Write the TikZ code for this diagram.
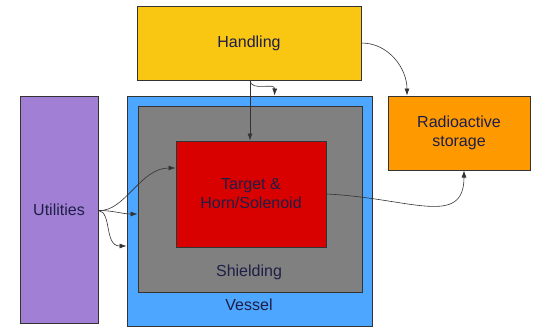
\documentclass[tikz,border=0pt]{standalone}
\usepackage{fontspec}
\setmainfont{Liberation Sans}
\usepackage{tikz}
\usepackage{xcolor}
\usetikzlibrary{arrows.meta}

\definecolor{handlingc}{RGB}{249,198,17}
\definecolor{utilc}{RGB}{160,127,212}
\definecolor{vesselc}{RGB}{77,166,255}
\definecolor{shieldc}{RGB}{128,128,128}
\definecolor{targetc}{RGB}{217,0,0}
\definecolor{storec}{RGB}{255,153,0}
\definecolor{inkc}{RGB}{30,30,70}
\definecolor{edgec}{RGB}{51,51,51}

\begin{document}
\begin{tikzpicture}
  [x=1pt,y=-1pt,
   every node/.style={font=\fontsize{16}{19}\selectfont,text=inkc,align=center},
   box/.style={rectangle,draw=edgec,line width=1pt,inner sep=0pt},
   arr/.style={-{Latex[length=7pt,width=5pt]},draw=black!80,line width=0.6pt}]

  \useasboundingbox (0,0) rectangle (538,327);

  \node[box,fill=handlingc,minimum width=224pt,minimum height=74pt] (handling) at (249,43) {Handling};
  \node[box,fill=utilc,minimum width=78pt,minimum height=227pt] (util) at (59,209.5) {Utilities};
  \node[box,fill=vesselc,minimum width=245pt,minimum height=230pt] (vessel) at (249.5,211) {};
  \node[box,fill=shieldc,minimum width=224pt,minimum height=186pt] (shield) at (250,199) {};
  \node[box,fill=targetc,minimum width=150pt,minimum height=106pt] (target) at (251,194) {Target \&\\Horn/Solenoid};
  \node[box,fill=storec,minimum width=142pt,minimum height=74pt] (store) at (459,133) {Radioactive\\storage};

  \node (shieldlbl) at (249,272) {Shielding};
  \node (vessellbl) at (249,305) {Vessel};

  \draw[arr] (handling.east) to[out=0,in=90] ([xshift=-52pt]store.north);
  \draw[arr] ([xshift=1pt]handling.south) -- ([xshift=1pt]handling.south |- target.north);
  \draw[arr] ([xshift=1pt]handling.south) .. controls (251,92) and (275,82) .. ([xshift=25pt]vessel.north);
  \draw[arr] ([yshift=-1pt]util.east) .. controls (125,212) and (140,168) .. ([yshift=26pt]target.west);
  \draw[arr] ([yshift=-1pt]util.east) to[out=0,in=180] ([yshift=-15pt]shield.west);
  \draw[arr] ([yshift=-1pt]util.east) .. controls (112,212) and (104,246) .. ([yshift=-35pt]vessel.west);
  \draw[arr] (target.east) .. controls (410,198) and (464,228) .. ([xshift=5pt]store.south);
\end{tikzpicture}
\end{document}
